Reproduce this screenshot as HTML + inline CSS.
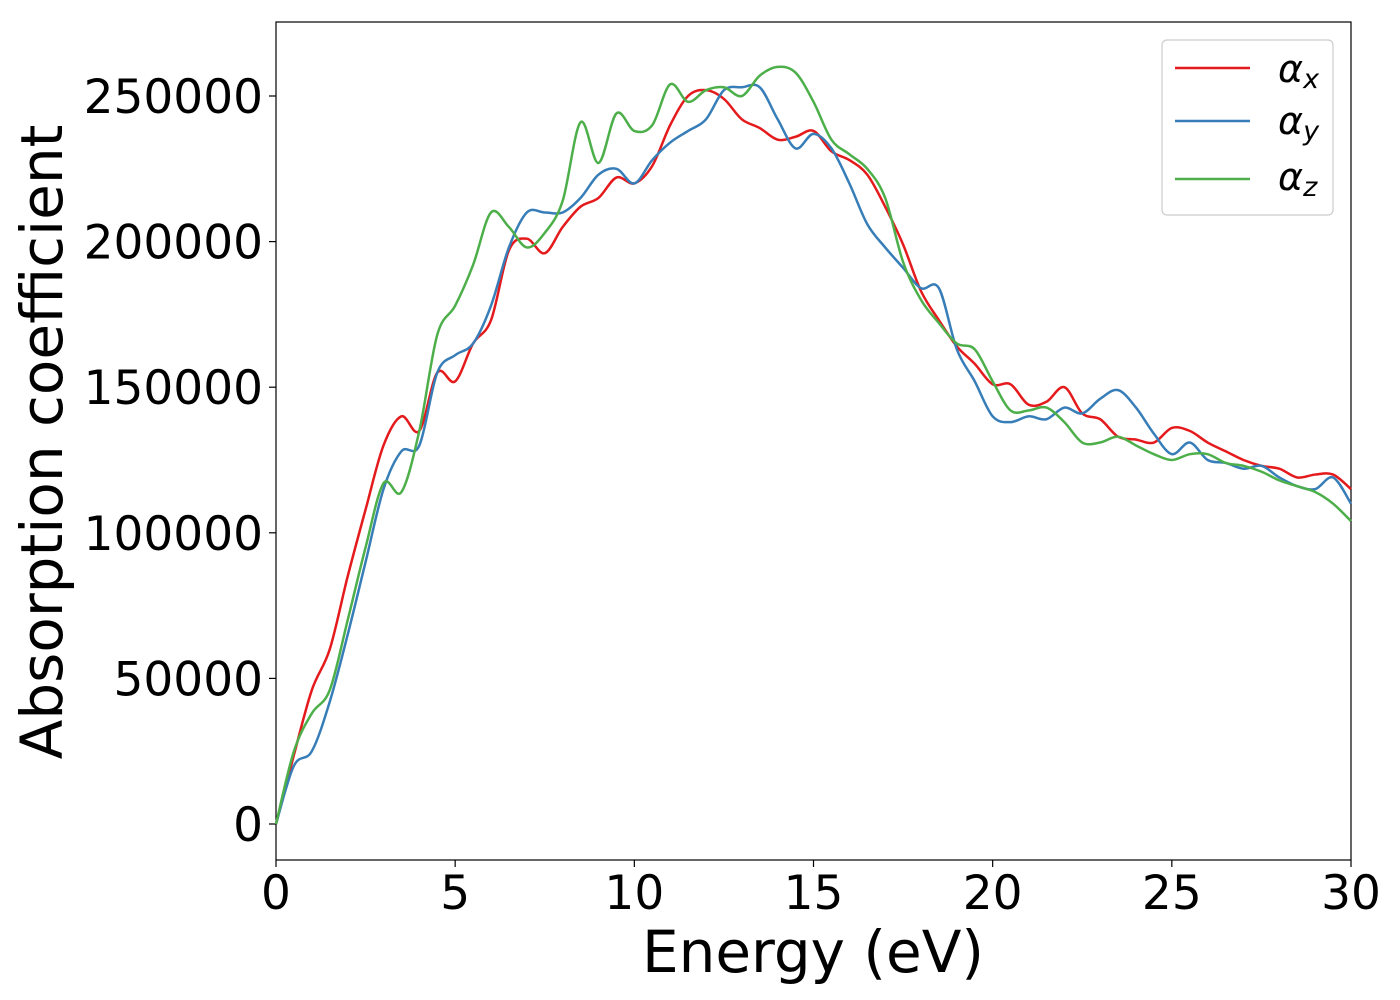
<!DOCTYPE html>
<html><head><meta charset="utf-8"><style>
html,body{margin:0;padding:0;background:#fff;}
svg{display:block;font-family:"DejaVu Sans","Liberation Sans",sans-serif;}
</style></head><body>
<svg id="chart" width="1400" height="1000">
<rect x="276" y="22" width="1075" height="838" fill="#fff" stroke="#000" stroke-width="1.2"/>
<g id="ticks"></g>
<g id="series"></g>
<text x="813" y="972" font-size="58" text-anchor="middle">Energy (eV)</text>
<text transform="translate(62,442) rotate(-90)" font-size="58" text-anchor="middle">Absorption coefficient</text>
<g>
<rect x="1162" y="40" width="171" height="175" rx="5" fill="#fff" stroke="#ccc" stroke-width="1.2"/>
<g><line x1="1175" y1="68" x2="1250" y2="68" stroke="#e41a1c" stroke-width="2.5"/><text x="1278" y="82" font-size="38" font-style="italic">α<tspan font-size="27" dy="6">x</tspan></text></g>
<g><line x1="1175" y1="121" x2="1250" y2="121" stroke="#377eb8" stroke-width="2.5"/><text x="1278" y="134" font-size="38" font-style="italic">α<tspan font-size="27" dy="6">y</tspan></text></g>
<g><line x1="1175" y1="179" x2="1250" y2="179" stroke="#4daf4a" stroke-width="2.5"/><text x="1278" y="190" font-size="38" font-style="italic">α<tspan font-size="27" dy="6">z</tspan></text></g>
</g>
</svg>
<script>
const xTicks=[0,5,10,15,20,25,30];
const yTicks=[0,50000,100000,150000,200000,250000];
const energy=[0,0.5,1,1.5,2,2.5,3,3.5,4,4.5,5,5.5,6,6.5,7,7.5,8,8.5,9,9.5,10,10.5,11,11.5,12,12.5,13,13.5,14,14.5,15,15.5,16,16.5,17,17.5,18,18.5,19,19.5,20,20.5,21,21.5,22,22.5,23,23.5,24,24.5,25,25.5,26,26.5,27,27.5,28,28.5,29,29.5,30];
const alphaX=[0,23700,46000,60000,85000,108000,130000,140000,135000,155000,152000,165000,173000,197000,201000,196000,205000,212000,215000,222000,220000,226000,240000,250000,252000,249000,242000,239000,235000,236000,238000,231000,228000,223000,212000,199000,183000,173000,164000,158000,151000,151000,144000,145000,150000,141000,139000,133000,132000,131000,136000,135000,131000,128000,125000,123000,122000,119000,120000,120000,115000];
const alphaY=[0,20000,25000,42000,65000,90000,115000,128000,130000,155000,161000,165000,178000,198000,210000,210000,210000,215000,223000,225000,220000,228000,234000,238000,242000,252000,253000,253000,242000,232000,237000,232000,220000,206000,198000,191000,184000,184000,163000,152000,140000,138000,140000,139000,143000,141000,146000,149000,143000,134000,127000,131000,125000,124000,122000,123000,119000,116000,115000,119000,110000];
const alphaZ=[0,25000,38000,46000,70000,95000,117000,114000,135000,168000,178000,192000,210000,205000,198000,203000,214000,241000,227000,244000,238000,240000,254000,248000,252000,253000,250000,257000,260000,258000,248000,235000,230000,225000,215000,193000,180000,172000,165000,163000,152000,142000,142000,143000,138000,131000,131000,133000,130000,127000,125000,127000,127000,124000,123000,121000,118000,116000,114000,110000,104000];
const X0=276,X1=1351,Y0=824,Y250=96;
const sx=v=>X0+(v-0)/(30-0)*(X1-X0);
const sy=v=>Y0+(v/250000)*(Y250-Y0);
const NS="http://www.w3.org/2000/svg";
const tg=document.getElementById('ticks');
xTicks.forEach(t=>{
 const l=document.createElementNS(NS,'line');
 l.setAttribute('x1',sx(t));l.setAttribute('x2',sx(t));l.setAttribute('y1',860);l.setAttribute('y2',867);l.setAttribute('stroke','#000');l.setAttribute('stroke-width','1.2');
 
 
 tg.appendChild(l);
 const tx=document.createElementNS(NS,'text');
 tx.setAttribute('x',sx(t));tx.setAttribute('y',909);tx.setAttribute('font-size','47');tx.setAttribute('text-anchor','middle');tx.textContent=t;
 
 
 tg.appendChild(tx);
});
yTicks.forEach(t=>{
 const l=document.createElementNS(NS,'line');
 l.setAttribute('x1',269);l.setAttribute('x2',276);l.setAttribute('y1',sy(t));l.setAttribute('y2',sy(t));l.setAttribute('stroke','#000');l.setAttribute('stroke-width','1.2');
 
 
 tg.appendChild(l);
 const tx=document.createElementNS(NS,'text');
 tx.setAttribute('x',263);tx.setAttribute('y',sy(t)+17);tx.setAttribute('font-size','47');tx.setAttribute('text-anchor','end');tx.textContent=t;
 
 
 tg.appendChild(tx);
});
function smoothPath(xs,ys){
 const p=xs.map((x,i)=>[sx(x),sy(ys[i])]);
 let d='M'+p[0][0]+','+p[0][1];
 for(let i=0;i<p.length-1;i++){
  const a=p[Math.max(i-1,0)],b=p[i],c=p[i+1],e=p[Math.min(i+2,p.length-1)];
  const c1=[b[0]+(c[0]-a[0])/6,b[1]+(c[1]-a[1])/6];
  const c2=[c[0]-(e[0]-b[0])/6,c[1]-(e[1]-b[1])/6];
  d+=' C'+c1[0]+','+c1[1]+' '+c2[0]+','+c2[1]+' '+c[0]+','+c[1];
 }
 return d;
}
const sg=document.getElementById('series');
[[alphaX,'#e41a1c','series-alpha-x'],[alphaY,'#377eb8','series-alpha-y'],[alphaZ,'#4daf4a','series-alpha-z']].forEach(s=>{
 const p=document.createElementNS(NS,'path');
 p.setAttribute('d',smoothPath(energy,s[0]));
 p.setAttribute('fill','none');p.setAttribute('stroke',s[1]);p.setAttribute('stroke-width','2.5');p.setAttribute('stroke-linejoin','round');
 
 
 sg.appendChild(p);
});
</script>
</body></html>
